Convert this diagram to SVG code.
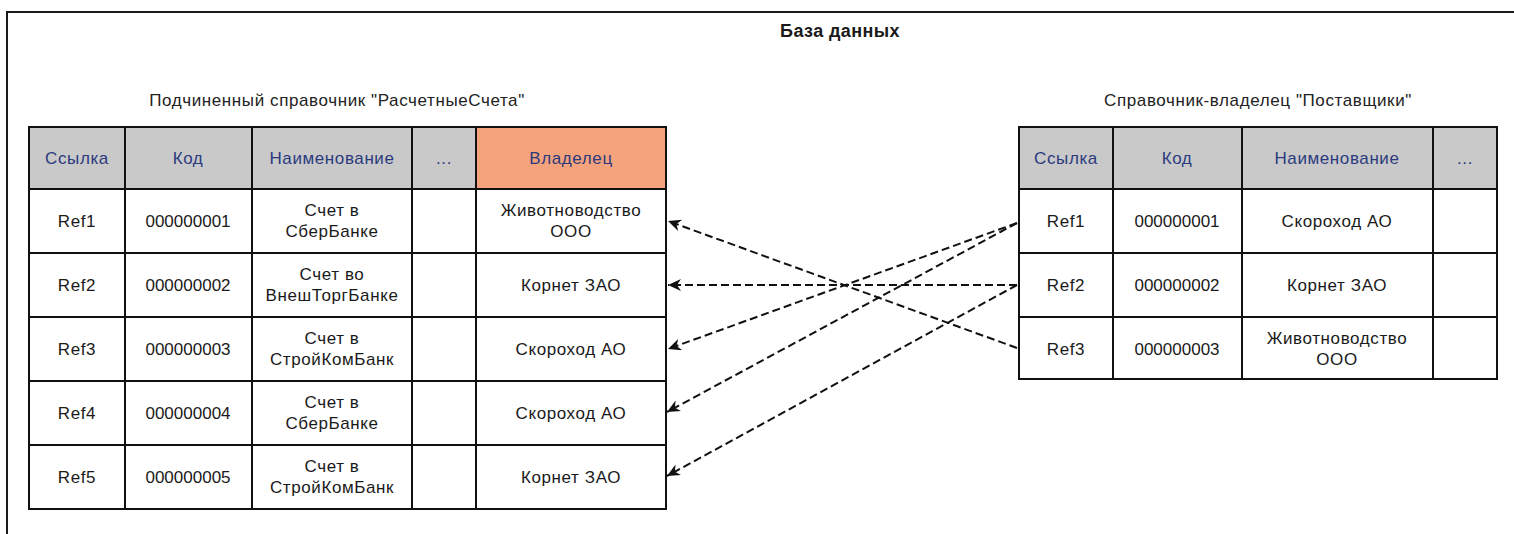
<svg xmlns="http://www.w3.org/2000/svg" width="1514" height="534" viewBox="0 0 1514 534">
  <style>
    .frame { fill: none; stroke: #1a1a1a; stroke-width: 2; }
    .grid { fill: none; stroke: #111; stroke-width: 2; }
    .hdr { fill: #c9c9c9; }
    .own { fill: #f5a37c; }
    .cell { fill: #ffffff; }
    text { font-family: "Liberation Sans", Arial, sans-serif; font-size: 17px; letter-spacing: 0.6px; fill: #1a1a1a; text-anchor: middle; }
    .num { letter-spacing: 0; }
    .h { fill: #2b3a7e; }
    .title { font-weight: bold; font-size: 18px; letter-spacing: 0.4px; }
    .cap { fill: #222; }
    .link { fill: none; stroke: #111; stroke-width: 2; stroke-dasharray: 8 4; marker-end: url(#arrow); }
  </style>
  <defs>
    <marker id="arrow" markerUnits="userSpaceOnUse" markerWidth="16" markerHeight="14" refX="13" refY="6" orient="auto">
      <path d="M0,0 L13,6 L0,12 L4,6 Z" fill="#111"/>
    </marker>
  </defs>

  <rect width="1514" height="534" fill="#ffffff"/>

  <!-- outer database frame -->
  <path class="frame" d="M7,534 L7,12 L1514,12"/>
  <text class="title" x="840" y="37">База данных</text>

  <!-- subordinate catalog -->
  <g id="accounts">
    <text class="cap" x="337" y="106">Подчиненный справочник "РасчетныеСчета"</text>
    <rect class="hdr" x="29" y="127" width="447" height="62"/>
    <rect class="own" x="476" y="127" width="190" height="62"/>
    <rect class="cell" x="29" y="189" width="637" height="320"/>
    <g class="grid">
      <rect x="29" y="127" width="637" height="382"/>
      <path d="M125,127 V509 M252,127 V509 M412,127 V509 M476,127 V509"/>
      <path d="M29,189 H666 M29,253 H666 M29,317 H666 M29,381 H666 M29,445 H666"/>
    </g>
    <text class="h" x="77" y="164">Ссылка</text>
    <text class="h" x="188" y="164">Код</text>
    <text class="h" x="332" y="164">Наименование</text>
    <text class="h" x="444" y="164">...</text>
    <text class="h" x="571" y="164">Владелец</text>

    <text x="77" y="227">Ref1</text>
    <text class="num" x="188" y="227">000000001</text>
    <text x="332" y="216">Счет в</text>
    <text x="332" y="237">СберБанке</text>
    <text x="571" y="216">Животноводство</text>
    <text x="571" y="237">ООО</text>

    <text x="77" y="291">Ref2</text>
    <text class="num" x="188" y="291">000000002</text>
    <text x="332" y="280">Счет во</text>
    <text x="332" y="301">ВнешТоргБанке</text>
    <text x="571" y="291">Корнет ЗАО</text>

    <text x="77" y="355">Ref3</text>
    <text class="num" x="188" y="355">000000003</text>
    <text x="332" y="344">Счет в</text>
    <text x="332" y="365">СтройКомБанк</text>
    <text x="571" y="355">Скороход АО</text>

    <text x="77" y="419">Ref4</text>
    <text class="num" x="188" y="419">000000004</text>
    <text x="332" y="408">Счет в</text>
    <text x="332" y="429">СберБанке</text>
    <text x="571" y="419">Скороход АО</text>

    <text x="77" y="483">Ref5</text>
    <text class="num" x="188" y="483">000000005</text>
    <text x="332" y="472">Счет в</text>
    <text x="332" y="493">СтройКомБанк</text>
    <text x="571" y="483">Корнет ЗАО</text>
  </g>

  <!-- owner catalog -->
  <g id="suppliers">
    <text class="cap" x="1258" y="106">Справочник-владелец "Поставщики"</text>
    <rect class="hdr" x="1019" y="127" width="478" height="62"/>
    <rect class="cell" x="1019" y="189" width="478" height="190"/>
    <g class="grid">
      <rect x="1019" y="127" width="478" height="252"/>
      <path d="M1113,127 V379 M1242,127 V379 M1433,127 V379"/>
      <path d="M1019,189 H1497 M1019,253 H1497 M1019,317 H1497"/>
    </g>
    <text class="h" x="1066" y="164">Ссылка</text>
    <text class="h" x="1177" y="164">Код</text>
    <text class="h" x="1337" y="164">Наименование</text>
    <text class="h" x="1465" y="164">...</text>

    <text x="1066" y="227">Ref1</text>
    <text class="num" x="1177" y="227">000000001</text>
    <text x="1337" y="227">Скороход АО</text>

    <text x="1066" y="291">Ref2</text>
    <text class="num" x="1177" y="291">000000002</text>
    <text x="1337" y="291">Корнет ЗАО</text>

    <text x="1066" y="355">Ref3</text>
    <text class="num" x="1177" y="355">000000003</text>
    <text x="1337" y="344">Животноводство</text>
    <text x="1337" y="365">ООО</text>
  </g>

  <!-- owner references -->
  <g id="links">
    <line class="link" x1="1017" y1="348" x2="668" y2="221"/>
    <line class="link" x1="1017" y1="285" x2="668" y2="285"/>
    <line class="link" x1="1017" y1="223" x2="668" y2="349"/>
    <line class="link" x1="1017" y1="223" x2="667" y2="412"/>
    <line class="link" x1="1017" y1="285" x2="667" y2="476"/>
  </g>
</svg>
